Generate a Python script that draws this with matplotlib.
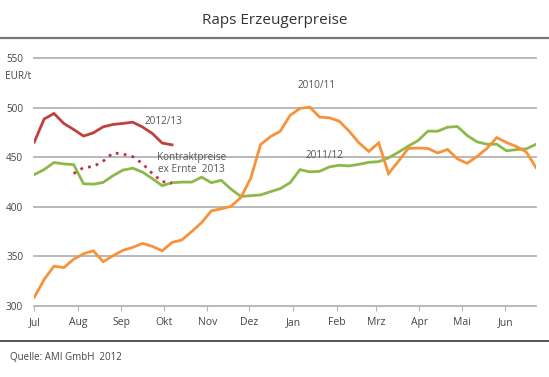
import matplotlib
matplotlib.use("Agg")
import matplotlib.pyplot as plt
from matplotlib.lines import Line2D
import numpy as np

plt.rcParams['font.family'] = ['Open Sans', 'DejaVu Sans']

# ---- data (weekly, starting 1 July) ----
months = ["Jul", "Aug", "Sep", "Okt", "Nov", "Dez", "Jan", "Feb", "Mrz", "Apr", "Mai", "Jun"]
month_start_days = [0, 31, 62, 92, 123, 153, 184, 215, 243, 274, 304, 335]

price_2010_11 = [308.5, 326.5, 340, 338.5, 347, 352.5, 355.5, 344.5, 350.5, 356,
                 359, 363, 360, 355.5, 364, 366.5, 375, 384, 396, 398,
                 400.5, 409.5, 429, 463, 471, 476.5, 492.5, 499.5, 500.8, 490.7,
                 490, 486.6, 476.5, 464.7, 456, 464.7, 433.5, 446, 459, 459.5,
                 459, 454.5, 458, 448.5, 444, 451, 459, 470, 465, 461,
                 455.5, 439.5]

price_2011_12 = [432.6, 437.7, 444.8, 443.4, 442.7, 423.4, 422.9, 424.7, 431.5, 437.1,
                 439.1, 435.1, 428.5, 421.4, 424.4, 425, 425, 430, 424.4, 426.8,
                 417.8, 410.5, 411.3, 412, 415.3, 418.4, 424.4, 437.6, 435.4, 435.9,
                 440.4, 442, 441.4, 443, 445, 445.7, 449.5, 455.2, 461.3, 467,
                 476.5, 476.5, 480.5, 481.2, 472.1, 465.7, 463.3, 463.3, 456.6, 457.9,
                 458.6, 463.3]

price_2012_13 = [465.5, 488.8, 494.4, 484.3, 478.2, 471.6, 474.8, 480.9, 483.3, 484.3,
                 485.6, 480.7, 474.1, 464.5, 462.7]

kontrakt_2013 = [433.6, 439.7, 440.7, 446.2, 454.6, 453.4, 450.8, 443.7, 433.6, 425.5, 424]
kontrakt_start_week = 4

y_ticks = [300, 350, 400, 450, 500, 550]

# ---- figure ----
W, H = 549, 377
fig = plt.figure(figsize=(W / 100, H / 100), dpi=100)

ax_left, ax_right = 34.3 / W, 536.1 / W
ax_bottom, ax_top = (H - 305.7) / H, (H - 58.5) / H
ax = fig.add_axes([ax_left, ax_bottom, ax_right - ax_left, ax_top - ax_bottom])

def days(n, start=0):
    return [(start + i) * 7 for i in range(n)]

c_orange = "#f7923a"
c_green = "#8db84a"
c_red = "#c1403d"
c_dot = "#c23042"

ax.plot(days(len(price_2011_12)), price_2011_12, color=c_green, lw=2.0, zorder=3,
        solid_joinstyle='miter')
ax.plot(days(len(price_2010_11)), price_2010_11, color=c_orange, lw=2.0, zorder=4,
        solid_joinstyle='miter')
ax.plot(days(len(price_2012_13)), price_2012_13, color=c_red, lw=2.0, zorder=5,
        solid_joinstyle='miter')
ax.plot(days(len(kontrakt_2013), kontrakt_start_week), kontrakt_2013, color=c_dot,
        lw=2.0, ls=(0, (1, 1.9)), zorder=5)

ax.set_xlim(0, 51 * 7)
ax.set_ylim(300, 550)

for s in ax.spines.values():
    s.set_visible(False)

ax.set_yticks(y_ticks)
ax.set_yticklabels([str(v) for v in y_ticks])
ax.tick_params(axis='y', length=0, pad=8, labelsize=7.2, labelcolor="#444444")
ax.yaxis.grid(True, color="#b3b3b3", lw=1.3)
ax.set_axisbelow(True)
for gl in ax.get_ygridlines():
    gl.set_clip_on(False)

ax.set_xticks(month_start_days)
ax.set_xticklabels(months)
ax.tick_params(axis='x', length=3.5, width=0.8, color="#b3b3b3", pad=4.5,
               labelsize=7.5, labelcolor="#444444")

def ftext(x, y, s, ha='left', va='center', **kw):
    fig.text(x / W, 1 - y / H, s, ha=ha, va=va, **kw)

ftext(W / 2, 20, "Raps Erzeugerpreise", ha='center', fontsize=11, color="#333333")
ftext(5, 76.5, "EUR/t", fontsize=7.2, color="#444444")
ftext(145, 121.5, "2012/13", fontsize=7.2, color="#555555")
ftext(157.5, 157.3, "Kontraktpreise", fontsize=7.2, color="#555555")
ftext(157.5, 169.5, "ex Ernte  2013", fontsize=7.2, color="#555555")
ftext(297.5, 85, "2010/11", fontsize=7.2, color="#555555")
ftext(306, 155.7, "2011/12", fontsize=7.2, color="#555555")
ftext(10, 357, "Quelle: AMI GmbH  2012", fontsize=7, color="#444444")

# separator lines
fig.add_artist(Line2D([0, 1], [1 - 38 / H, 1 - 38 / H], transform=fig.transFigure,
                      color="#7a7a7a", lw=1.6))
fig.add_artist(Line2D([0, 1], [1 - 340.7 / H, 1 - 340.7 / H], transform=fig.transFigure,
                      color="#3a3a3a", lw=1.2))

fig.savefig("out.png", dpi=100, facecolor="white")
